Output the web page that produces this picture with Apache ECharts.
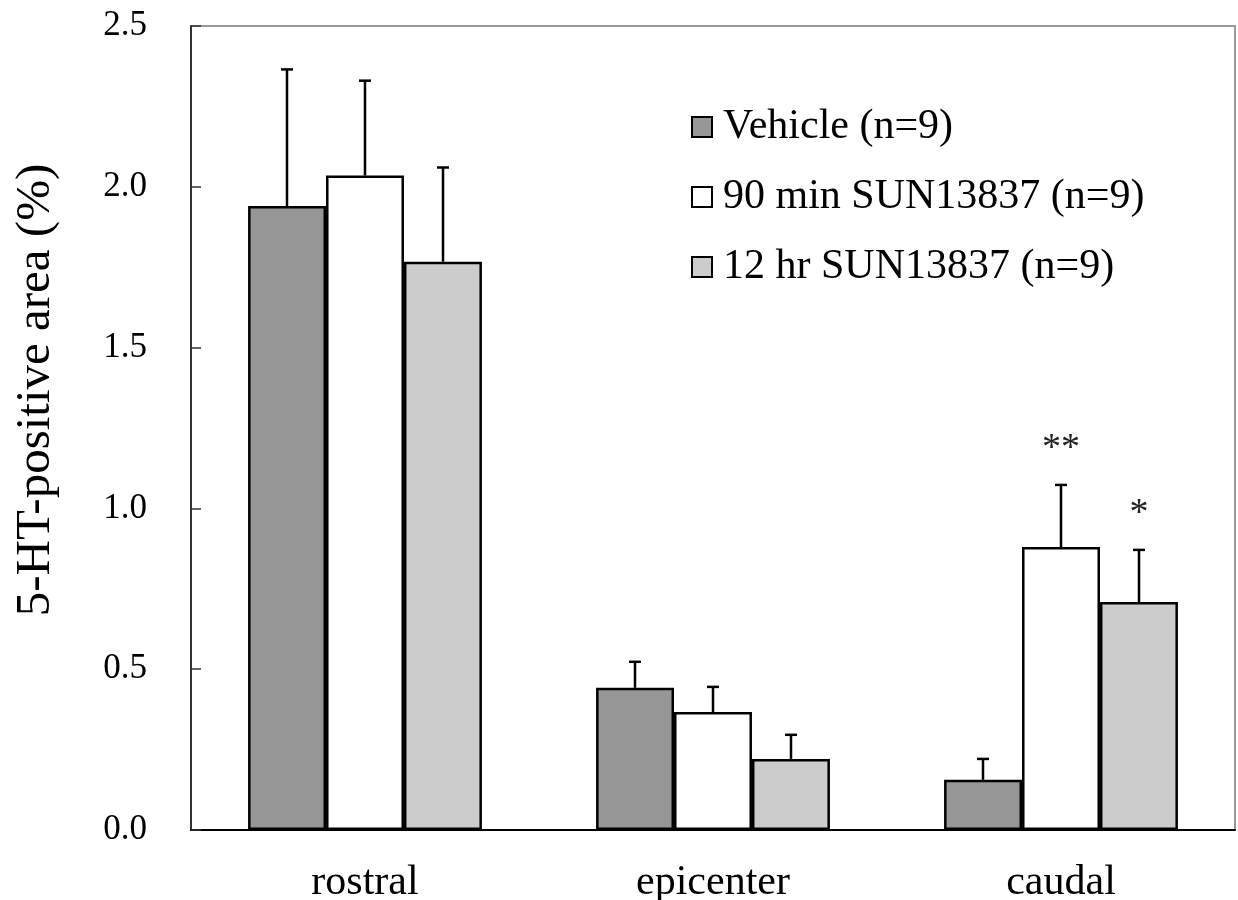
<!DOCTYPE html>
<html>
<head>
<meta charset="utf-8">
<script src="https://cdn.jsdelivr.net/npm/echarts@6/dist/echarts.min.js"></script>
<style>
html,body{margin:0;padding:0;background:#fff;}
#chart{width:1238px;height:900px;}
</style>
</head>
<body>
<div id="chart"></div>
<script>
const categories = ['rostral', 'epicenter', 'caudal'];
const seriesNames = ['Vehicle (n=9)', '90 min SUN13837 (n=9)', '12 hr SUN13837 (n=9)'];
const vehicleMean = [1.94, 0.442, 0.156];
const vehicleErr  = [0.425, 0.081, 0.065];
const min90Mean   = [2.035, 0.367, 0.880];
const min90Err    = [0.295, 0.078, 0.193];
const hr12Mean    = [1.767, 0.221, 0.709];
const hr12Err     = [0.293, 0.075, 0.162];
const vehicleSig  = ['', '', ''];
const min90Sig    = ['', '', '**'];
const hr12Sig     = ['', '', '*'];
const yTicks = [0, 0.5, 1.0, 1.5, 2.0, 2.5];

const FONT = 'Liberation Serif';
const colors = ['#969696', '#ffffff', '#cccccc'];
const means = [vehicleMean, min90Mean, hr12Mean];
const errs = [vehicleErr, min90Err, hr12Err];
const sigs = [vehicleSig, min90Sig, hr12Sig];
const BAR_FRAC = 0.224;

const chart = echarts.init(document.getElementById('chart'));

const barSeries = seriesNames.map((name, i) => ({
  name: name,
  type: 'bar',
  data: means[i],
  barWidth: (BAR_FRAC * 100) + '%',
  barGap: '0%',
  itemStyle: { color: colors[i], borderColor: '#000', borderWidth: 2.5 },
  emphasis: { disabled: true },
  z: 2
}));

const errData = [];
for (let s = 0; s < 3; s++) {
  for (let c = 0; c < categories.length; c++) {
    errData.push([c, means[s][c], errs[s][c], s, sigs[s][c]]);
  }
}

const errSeries = {
  type: 'custom',
  name: 'err',
  data: errData,
  z: 5,
  renderItem: function (params, api) {
    const c = api.value(0), m = api.value(1), e = api.value(2), s = api.value(3);
    const sig = errData[params.dataIndex][4];
    const band = api.size([1, 0])[0];
    const bw = band * BAR_FRAC;
    const base = api.coord([c, m]);
    const x = Math.round(base[0] + (s - 1) * bw);
    const top = api.coord([c, m + e]);
    const yb = base[1], yt = top[1];
    const cap = 6;
    const children = [
      { type: 'line', shape: { x1: x, y1: yb, x2: x, y2: yt }, style: { stroke: '#000', lineWidth: 2.5 } },
      { type: 'line', shape: { x1: x - cap, y1: yt, x2: x + cap, y2: yt }, style: { stroke: '#000', lineWidth: 2.5 } }
    ];
    if (sig) {
      children.push({
        type: 'text',
        style: { text: sig, x: x, y: yt - 36, align: 'center', verticalAlign: 'middle', font: '38px "' + FONT + '"', fill: '#222' }
      });
    }
    return { type: 'group', children: children };
  }
};

chart.setOption({
  animation: false,
  backgroundColor: '#fff',
  textStyle: { fontFamily: FONT, color: '#000' },
  grid: { left: 191, right: 3, top: 26, bottom: 70, outerBoundsMode: 'none', containLabel: false, show: true, borderColor: '#999', borderWidth: 2, backgroundColor: 'transparent' },
  legend: {
    orient: 'vertical',
    left: 686,
    top: 100,
    itemWidth: 20,
    itemHeight: 20,
    itemGap: 26,
    icon: 'rect',
    data: seriesNames,
    selectedMode: false,
    itemStyle: { borderColor: '#000', borderWidth: 2 },
    textStyle: { fontFamily: FONT, fontSize: 42, color: '#000', lineHeight: 44, padding: [0, 0, 0, 6] }
  },
  xAxis: {
    type: 'category',
    data: categories,
    boundaryGap: true,
    axisLine: { lineStyle: { color: '#000', width: 2 } },
    axisTick: { inside: true, length: 10, lineStyle: { color: '#555', width: 1.5 } },
    axisLabel: { fontFamily: FONT, fontSize: 42, color: '#000', margin: 32 }
  },
  yAxis: {
    type: 'value',
    min: 0,
    max: 2.5,
    interval: 0.5,
    name: '5-HT-positive area (%)',
    nameLocation: 'middle',
    nameGap: 130,
    nameTextStyle: { fontFamily: FONT, fontSize: 49, color: '#000', padding: [0, 0, 0, 76] },
    axisLine: { show: true, lineStyle: { color: '#333', width: 2 } },
    axisTick: { show: true, inside: true, length: 10, lineStyle: { color: '#333', width: 1.5 } },
    splitLine: { show: false },
    axisLabel: {
      fontFamily: FONT, fontSize: 35, color: '#000', margin: 44,
      formatter: function (v) { return yTicks.indexOf(v) >= 0 ? v.toFixed(1) : ''; }
    }
  },
  series: barSeries.concat([errSeries])
});
</script>
</body>
</html>
